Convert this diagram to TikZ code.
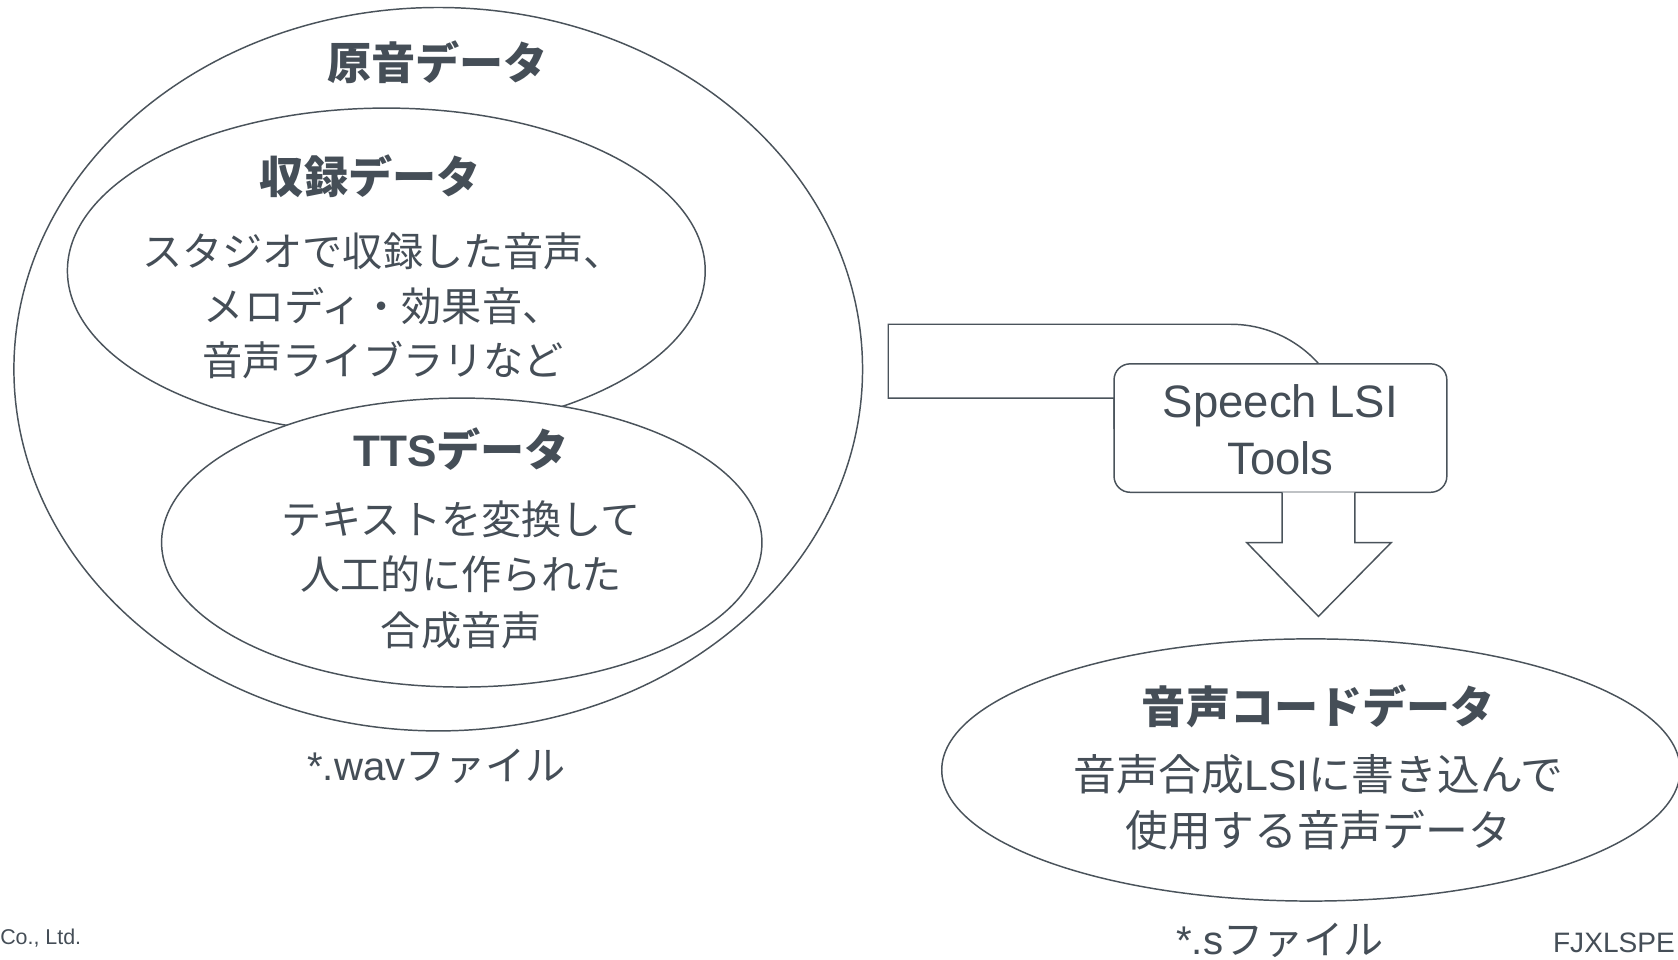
\documentclass[tikz,border=0pt]{standalone}
\usepackage{fontspec}
\usetikzlibrary{shapes.geometric}
\newfontfamily\jp{Noto Sans CJK JP}
\newfontfamily\ar{Liberation Sans}
\definecolor{ink}{HTML}{454E57}
\definecolor{edge}{HTML}{4A535B}
\begin{document}
\begin{tikzpicture}[x=0.8pt,y=-0.8pt,
 oval/.style={ellipse, draw=edge, line width=1.1pt, fill=white, inner sep=0pt},
 headtxt/.style={font=\jp\bfseries\fontsize{33pt}{33pt}\selectfont, text=ink, inner sep=0pt, anchor=base},
 bodytxt/.style={font=\jp\fontsize{30pt}{30pt}\selectfont, text=ink, inner sep=0pt, anchor=base},
 codetxt/.style={font=\jp\fontsize{32pt}{32pt}\selectfont, text=ink, inner sep=0pt, anchor=base},
 lattxt/.style={font=\ar\fontsize{34pt}{34pt}\selectfont, text=ink, inner sep=0pt, anchor=base},
 shapeline/.style={draw=edge, line width=1.1pt, line join=miter},
]
\useasboundingbox (0,0) rectangle (1568,897);
\fill[white] (0,0) rectangle (1568,897);

% outer ellipse and nested ellipses
\node[oval, minimum width=634.4pt, minimum height=540.8pt] (outer) at (409.5,345) {};
\node[oval, minimum width=476.8pt, minimum height=243.2pt] (rec) at (361,253) {};
\node[oval, minimum width=448.8pt, minimum height=216pt] (tts) at (431.5,507) {};

\node[headtxt] (t1) at (409,74) {原音データ};
\node[headtxt] (t2) at (346,181) {収録データ};
\node[bodytxt] (t2a) at (358,249) {スタジオで収録した音声、};
\node[bodytxt] (t2b) at (358,300) {メロディ・効果音、};
\node[bodytxt] (t2c) at (358,351) {音声ライブラリなど};
\node[headtxt] (t3) at (431,436) {{\ar\bfseries TTS}データ};
\node[bodytxt] (t3a) at (431,499) {テキストを変換して};
\node[bodytxt] (t3b) at (431,551) {人工的に作られた};
\node[bodytxt] (t3c) at (431,603) {合成音声};
\node[bodytxt] (wav) at (408,729) {{\ar *.wav}ファイル};

% bent shape behind the tool box
\path[shapeline, fill=white] (1041,372) -- (830,372) -- (830,303) -- (1150,303)
  arc[start angle=-90, end angle=-15, radius=110] -- (1041,400) -- cycle;

% tool box
\node[draw=edge, line width=1.1pt, fill=white, rounded corners=12pt, inner sep=0pt,
      minimum width=248.8pt, minimum height=96pt] (box) at (1196.5,400) {};
\node[lattxt] (s1) at (1196.5,390) {Speech LSI};
\node[lattxt] (s2) at (1196.5,443) {Tools};

% down arrow
\draw[shapeline, fill=white] (1198,460) -- (1198,507) -- (1165,507) -- (1232,576)
  -- (1300,507) -- (1266,507) -- (1266,460);

% code ellipse
\node[oval, minimum width=552pt, minimum height=196pt] (code) at (1225,719.5) {};
\node[headtxt] (t4) at (1232,676) {音声コードデータ};
\node[codetxt] (t4a) at (1232,739) {音声合成{\ar LSI}に書き込んで};
\node[codetxt] (t4b) at (1232,791) {使用する音声データ};
\node[bodytxt] (sfile) at (1196,892) {{\ar *.s}ファイル};

% footer fragments
\node[font=\ar\fontsize{16pt}{16pt}\selectfont, text=ink, inner sep=0pt, anchor=base west] (co) at (0,883) {Co., Ltd.};
\node[font=\ar\fontsize{21pt}{21pt}\selectfont, text=ink, inner sep=0pt, anchor=base west] (fj) at (1451,890) {FJXLSPE};
\end{tikzpicture}
\end{document}
